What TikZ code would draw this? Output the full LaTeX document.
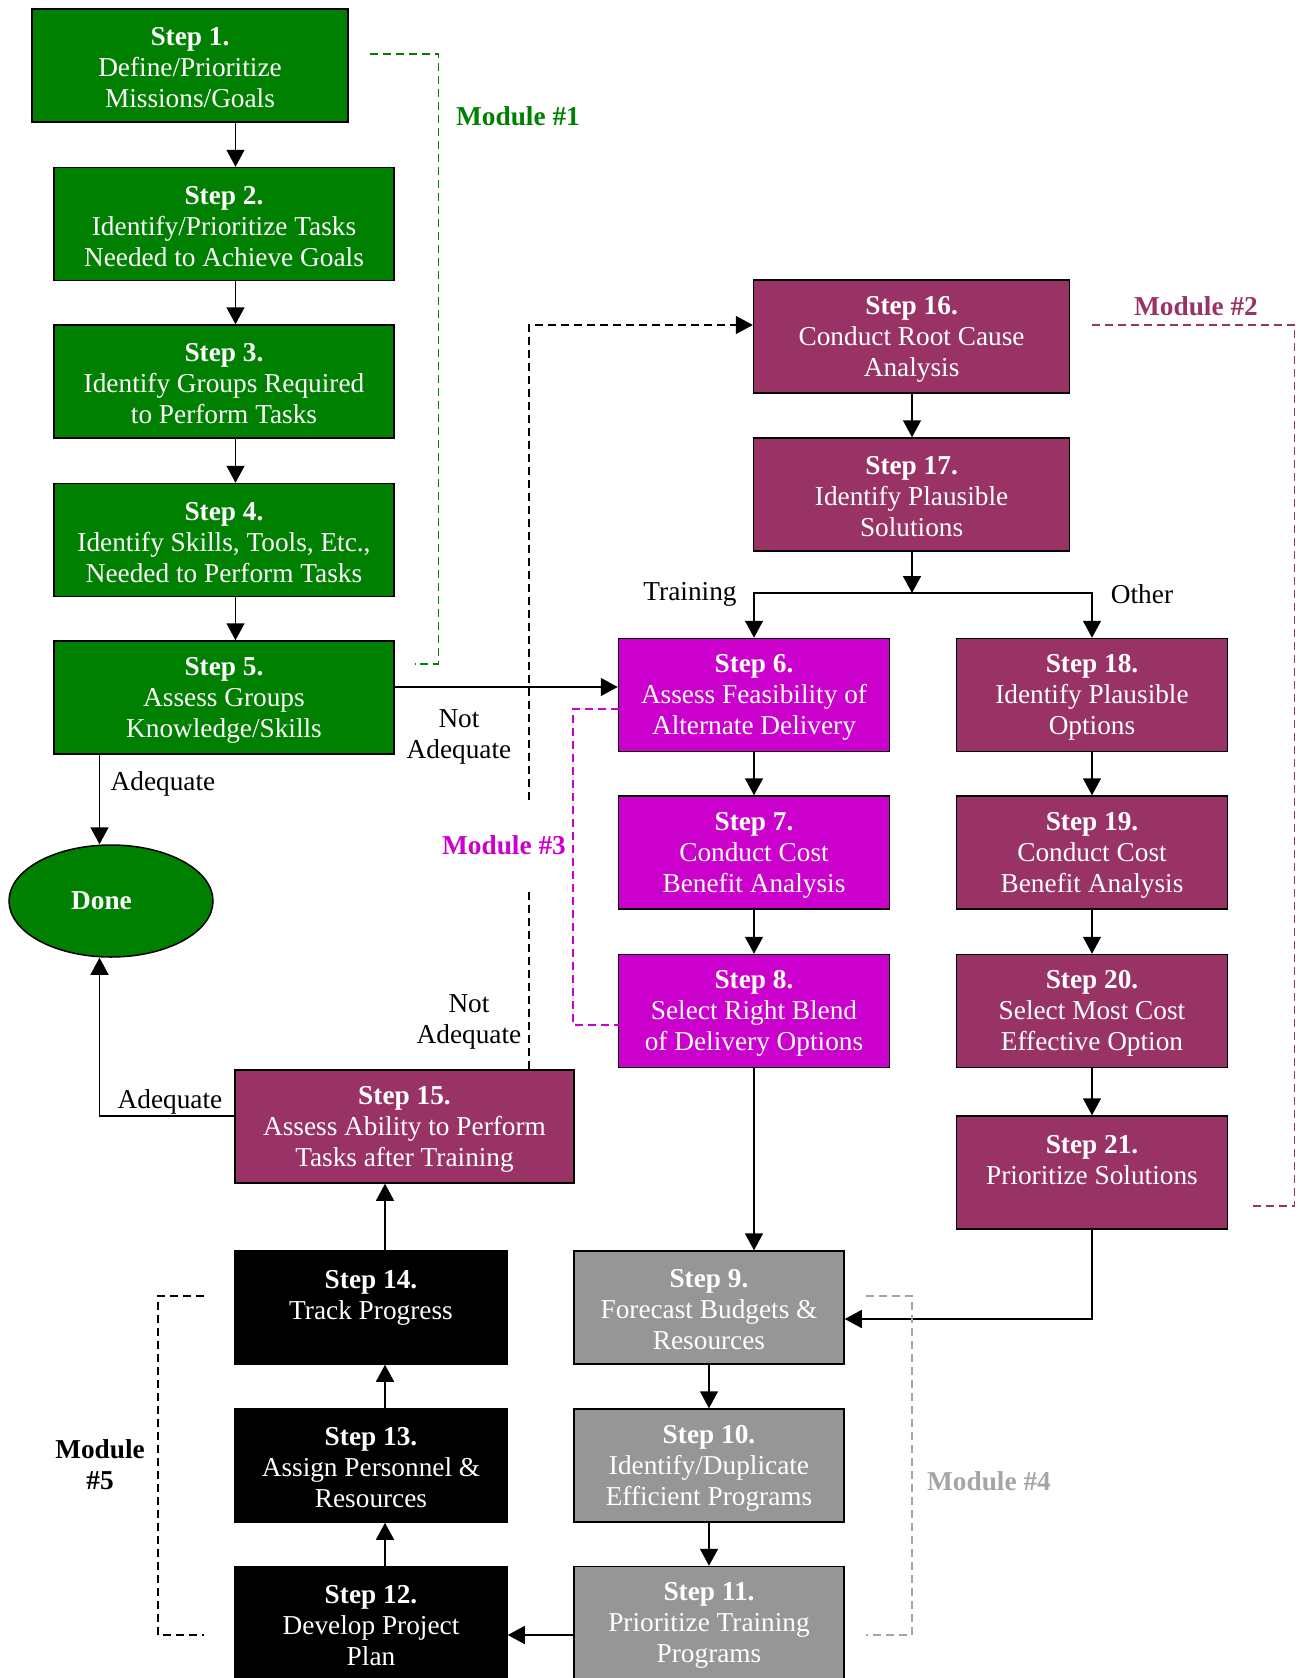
\documentclass[tikz,border=0pt]{standalone}
\usepackage{fontspec}
\setmainfont{Liberation Serif}
\usetikzlibrary{arrows.meta,shapes.geometric}
\definecolor{cgreen}{RGB}{0,128,0}
\definecolor{cplum}{RGB}{153,51,102}
\definecolor{cmag}{RGB}{204,0,204}
\definecolor{cgrey}{RGB}{150,150,150}
\definecolor{cgreyl}{RGB}{165,165,165}
\newcommand\stepnode[5]{\node[#1, minimum width=#2pt, label={[steptext]center:{#5}}] (#3) at (#4) {};}
\begin{document}
\begin{tikzpicture}[x=1pt,y=-1pt,
  box/.style={draw=black, line width=1.5pt, inner sep=0pt, minimum height=113pt},
  steptext/.style={text=white, align=center, inner sep=0pt, yshift=-2.5pt,
    font=\fontsize{27.3}{31}\selectfont},
  gbox/.style={box, fill=cgreen},
  pbox/.style={box, fill=cplum},
  mbox/.style={box, fill=cmag},
  kbox/.style={box, fill=black},
  ybox/.style={box, fill=cgrey},
  arr/.style={line width=1.5pt, -{Triangle[length=17pt,width=18pt]}},
  dline/.style={line width=1.4pt, dash pattern=on 8pt off 5pt},
  darr/.style={dline, -{Triangle[length=17pt,width=18pt]}},
  mod/.style={line width=1.3pt, dash pattern=on 8pt off 5pt},
  lbl/.style={font=\fontsize{27.3}{31}\selectfont, align=center, inner sep=0pt},
  modlbl/.style={font=\fontsize{27.3}{31}\selectfont\bfseries, align=center, inner sep=0pt}
]
\useasboundingbox (0,0) rectangle (1302,1678);

% Module 1
\stepnode{gbox}{316}{s1}{190,65.5}{\textbf{Step 1.}\\Define/Prioritize\\Missions/Goals}
\stepnode{gbox}{340}{s2}{224,224}{\textbf{Step 2.}\\Identify/Prioritize Tasks\\Needed to Achieve Goals}
\stepnode{gbox}{340}{s3}{224,381.5}{\textbf{Step 3.}\\Identify Groups Required\\to Perform Tasks}
\stepnode{gbox}{340}{s4}{224,540}{\textbf{Step 4.}\\Identify Skills, Tools, Etc.,\\Needed to Perform Tasks}
\stepnode{gbox}{340}{s5}{224,697.5}{\textbf{Step 5.}\\Assess Groups\\Knowledge/Skills}
\node[ellipse, draw=black, line width=1.5pt, fill=cgreen, text=white, inner sep=0pt,
  minimum width=204pt, minimum height=112pt, font=\fontsize{27.3}{31}\selectfont\bfseries] (done) at (111,901) {\hspace*{-19pt}Done};

% Module 2
\stepnode{pbox}{316}{s16}{911.6,336.5}{\textbf{Step 16.}\\Conduct Root Cause\\Analysis}
\stepnode{pbox}{316}{s17}{911.6,494.5}{\textbf{Step 17.}\\Identify Plausible\\Solutions}
\stepnode{pbox}{271}{s18}{1092,695}{\textbf{Step 18.}\\Identify Plausible\\Options}
\stepnode{pbox}{271}{s19}{1092,852.5}{\textbf{Step 19.}\\Conduct Cost\\Benefit Analysis}
\stepnode{pbox}{271}{s20}{1092,1011}{\textbf{Step 20.}\\Select Most Cost\\Effective Option}
\stepnode{pbox}{271}{s21}{1092,1172.5}{\textbf{Step 21.}\\Prioritize Solutions\\~}

% Module 3
\stepnode{mbox}{271}{s6}{754,695}{\textbf{Step 6.}\\Assess Feasibility of\\Alternate Delivery}
\stepnode{mbox}{271}{s7}{754,852.5}{\textbf{Step 7.}\\Conduct Cost\\Benefit Analysis}
\stepnode{mbox}{271}{s8}{754,1011}{\textbf{Step 8.}\\Select Right Blend\\of Delivery Options}

% Module 4
\stepnode{ybox}{270}{s9}{709,1307.5}{\textbf{Step 9.}\\Forecast Budgets \&\\Resources}
\stepnode{ybox}{270}{s10}{709,1465.5}{\textbf{Step 10.}\\Identify/Duplicate\\Efficient Programs}
\stepnode{ybox}{270}{s11}{709,1623}{\textbf{Step 11.}\\Prioritize Training\\Programs}

% Module 5
\stepnode{kbox}{272}{s12}{371,1623}{\textbf{Step 12.}\\Develop Project\\Plan}
\stepnode{kbox}{272}{s13}{371,1465.5}{\textbf{Step 13.}\\Assign Personnel \&\\Resources}
\stepnode{kbox}{272}{s14}{371,1307.5}{\textbf{Step 14.}\\Track Progress\\~}
\stepnode{pbox}{339}{s15}{404.5,1126.5}{\textbf{Step 15.}\\Assess Ability to Perform\\Tasks after Training}

% helper coordinates
\coordinate (cA) at (235.5,0);
\coordinate (cD) at (99.5,0);
\coordinate (cB) at (385,0);
\coordinate (cK) at (529,0);
\coordinate (r56) at (0,687);
\coordinate (r16) at (0,325);
\coordinate (r9) at (0,1319);
\coordinate (r12) at (0,1635);
\coordinate (r15) at (0,1116);
\coordinate (br) at (912,593);
\coordinate (kgapTop) at (529,800);
\coordinate (kgapBot) at (529,890);

% connectors
\draw[arr] (s1.south -| cA) -- (s2.north -| cA);
\draw[arr] (s2.south -| cA) -- (s3.north -| cA);
\draw[arr] (s3.south -| cA) -- (s4.north -| cA);
\draw[arr] (s4.south -| cA) -- (s5.north -| cA);
\draw[arr] (s5.east |- r56) -- (s6.west |- r56);
\draw[arr] (s5.south -| cD) -- (done.north -| cD);

\draw[dline] (s15.north -| cK) -- (kgapBot);
\draw[darr] (kgapTop) -- (cK |- r16) -- (s16.west |- r16);

\draw[arr] (s16.south -| br) -- (s17.north -| br);
\draw[arr] (s17.south -| br) -- (br);
\draw[arr] (br) -| (s6.north);
\draw[arr] (br) -| (s18.north);
\draw[arr] (s6.south) -- (s7.north);
\draw[arr] (s7.south) -- (s8.north);
\draw[arr] (s18.south) -- (s19.north);
\draw[arr] (s19.south) -- (s20.north);
\draw[arr] (s20.south) -- (s21.north);
\draw[arr] (s8.south) -- (s9.north -| s8.south);
\draw[arr] (s21.south) |- (s9.east |- r9);
\draw[arr] (s9.south) -- (s10.north);
\draw[arr] (s10.south) -- (s11.north);
\draw[arr] (s11.west |- r12) -- (s12.east |- r12);
\draw[arr] (s12.north -| cB) -- (s13.south -| cB);
\draw[arr] (s13.north -| cB) -- (s14.south -| cB);
\draw[arr] (s14.north -| cB) -- (s15.south -| cB);
\draw[arr] (s15.west |- r15) -| (done.south -| cD);

% labels
\node[lbl] (lad1) at (163,784) {Adequate};
\node[lbl] (lna1) at (459,737) {Not\\Adequate};
\node[lbl] (lad2) at (170,1102) {Adequate};
\node[lbl] (lna2) at (469,1022) {Not\\Adequate};
\node[lbl] (ltr) at (690,594) {Training};
\node[lbl] (lot) at (1142,594) {Other};

% module brackets
\draw[mod, draw=cgreen] (370,54) -- (438.6,54) -- (438.6,664) -- (415,664);
\draw[mod, draw=cplum] (1091.5,325) -- (1294.7,325) -- (1294.7,1206) -- (1249,1206);
\draw[mod, draw=cmag] (618.6,709) -- (573,709) -- (573,1025) -- (618.6,1025);
\draw[mod, draw=cgreyl] (866,1296) -- (912,1296) -- (912,1635) -- (866,1635);
\draw[mod, draw=black] (204,1296) -- (158,1296) -- (158,1635) -- (204,1635);

\node[modlbl, text=cgreen] (m1) at (518,116) {Module \#1};
\node[modlbl, text=cplum] (m2) at (1196,306) {Module \#2};
\node[modlbl, text=cmag] (m3) at (504,845) {Module \#3};
\node[modlbl, text=cgreyl] (m4) at (989,1481) {Module \#4};
\node[modlbl] (m5) at (100,1465) {Module\\\#5};
\end{tikzpicture}
\end{document}
